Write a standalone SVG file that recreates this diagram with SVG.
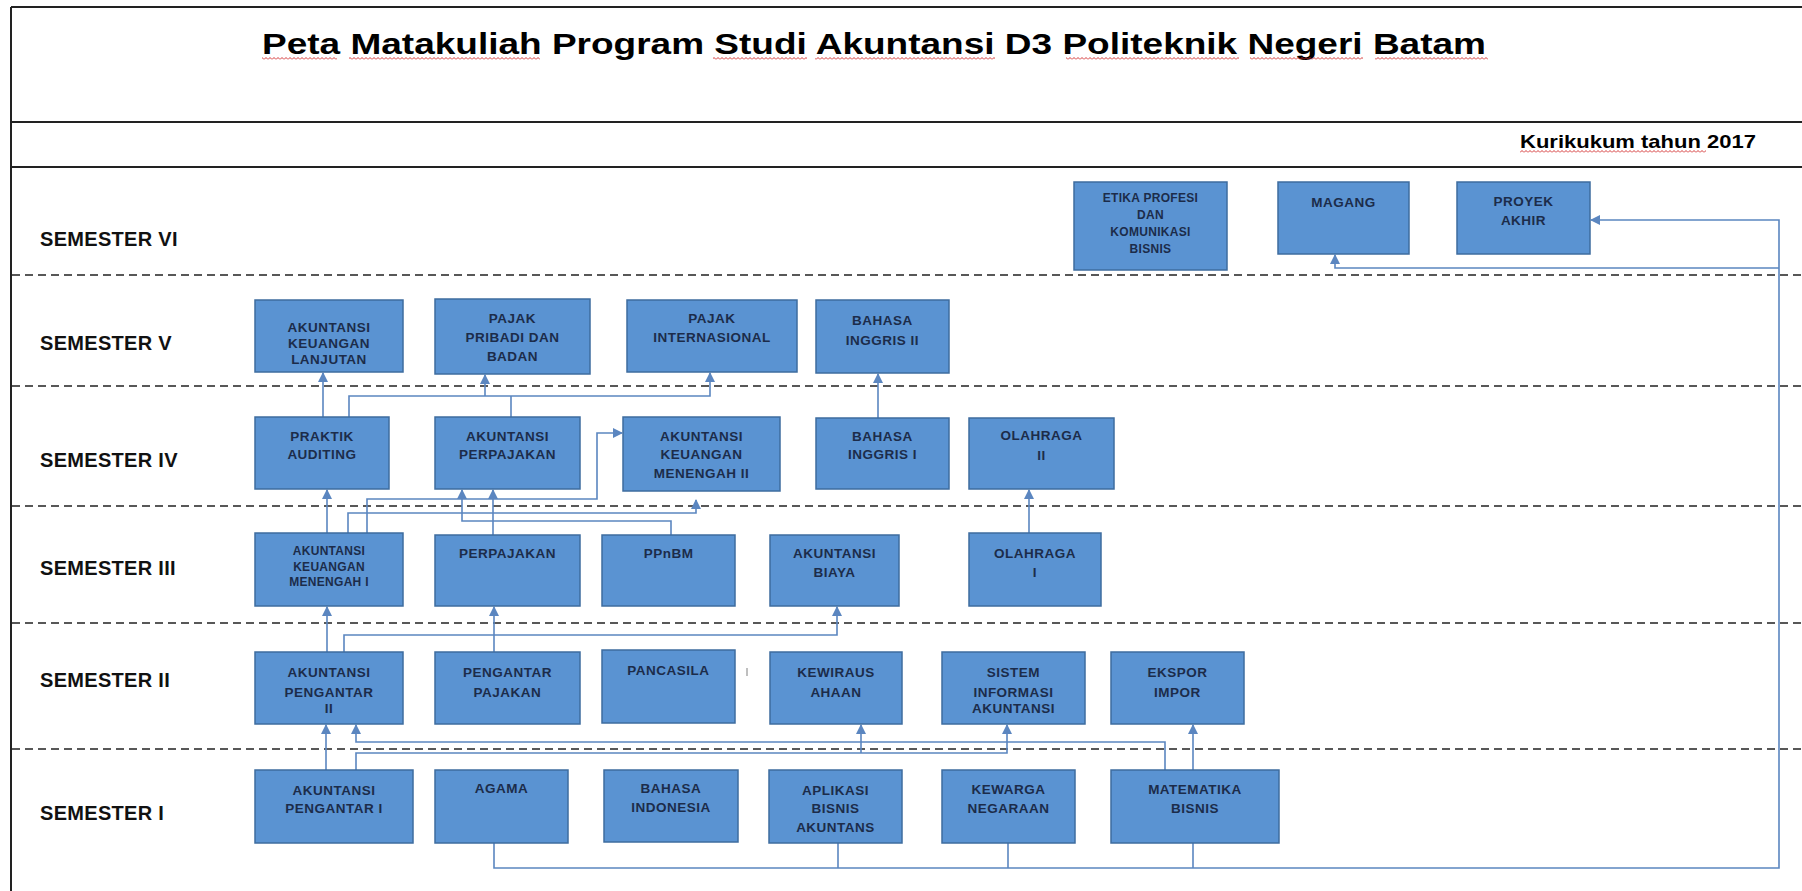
<svg xmlns="http://www.w3.org/2000/svg" width="1802" height="891" viewBox="0 0 1802 891">
<style>
.frame{stroke:#222;stroke-width:2;fill:none}
.dash{stroke:#222;stroke-width:1.6;stroke-dasharray:8 5;fill:none}
.box{fill:#5A93D2;stroke:#3E6C9F;stroke-width:1.5}
.lbl{font-family:"Liberation Sans",Arial,sans-serif;font-weight:bold;font-size:13.5px;fill:#1C2C4A;text-anchor:middle;letter-spacing:0.5px}
.sm{font-size:12px;letter-spacing:0.3px}
.sem{font-family:"Liberation Sans",Arial,sans-serif;font-weight:bold;font-size:20px;fill:#111;letter-spacing:0.3px}
.con{stroke:#5B86C0;stroke-width:1.6;fill:none}
.arr{stroke:#5B86C0;stroke-width:1.6;fill:none;marker-end:url(#ah)}
.wavy{fill:url(#wv)}
</style>
<defs>
<marker id="ah" markerUnits="userSpaceOnUse" markerWidth="10" markerHeight="10" refX="9" refY="5" orient="auto">
<path d="M0,0 L10,5 L0,10 z" fill="#5B86C0"/>
</marker>
<pattern id="wv" patternUnits="userSpaceOnUse" width="4" height="3">
<path d="M0,2.5 L2,0.5 L4,2.5" stroke="#D02020" stroke-width="0.9" fill="none"/>
</pattern>
</defs>
<rect width="1802" height="891" fill="#fff"/>
<g id="frame">
<line class="frame" x1="11" y1="7" x2="1802" y2="7"/>
<line class="frame" x1="11" y1="7" x2="11" y2="891"/>
<line class="frame" x1="11" y1="122" x2="1802" y2="122"/>
<line class="frame" x1="11" y1="167" x2="1802" y2="167"/>
<line class="dash" x1="12" y1="275" x2="1802" y2="275"/>
<line class="dash" x1="12" y1="386" x2="1802" y2="386"/>
<line class="dash" x1="12" y1="506" x2="1802" y2="506"/>
<line class="dash" x1="12" y1="623" x2="1802" y2="623"/>
<line class="dash" x1="12" y1="749" x2="1802" y2="749"/>
</g>
<g id="titles">
<text x="262" y="54" font-family="Liberation Sans, Arial, sans-serif" font-weight="bold" font-size="29" fill="#000" textLength="1224" lengthAdjust="spacingAndGlyphs">Peta Matakuliah Program Studi Akuntansi D3 Politeknik Negeri Batam</text>
<text x="1520" y="148" font-family="Liberation Sans, Arial, sans-serif" font-weight="bold" font-size="19" fill="#000" textLength="236" lengthAdjust="spacingAndGlyphs">Kurikukum tahun 2017</text>
<text class="sem" x="40" y="246">SEMESTER VI</text>
<text class="sem" x="40" y="350">SEMESTER V</text>
<text class="sem" x="40" y="467">SEMESTER IV</text>
<text class="sem" x="40" y="575">SEMESTER III</text>
<text class="sem" x="40" y="687">SEMESTER II</text>
<text class="sem" x="40" y="820">SEMESTER I</text>
</g>
<g id="spellcheck">
<rect class="wavy" x="262" y="57" width="75" height="3"/>
<rect class="wavy" x="349" y="57" width="191" height="3"/>
<rect class="wavy" x="713" y="57" width="94" height="3"/>
<rect class="wavy" x="815" y="57" width="180" height="3"/>
<rect class="wavy" x="1066" y="57" width="173" height="3"/>
<rect class="wavy" x="1250" y="57" width="113" height="3"/>
<rect class="wavy" x="1375" y="57" width="113" height="3"/>
<rect class="wavy" x="1520" y="150" width="186" height="3"/>
</g>
<g id="connectors">
<path class="arr" d="M327,533 V490"/>
<path class="arr" d="M323,417 V373"/>
<path class="arr" d="M349,417 V396 H710 V373"/>
<path class="con" d="M511,417 V396"/>
<path class="arr" d="M485,396 V375"/>
<path class="arr" d="M878,418 V374"/>
<path class="arr" d="M1029,533 V490"/>
<path class="arr" d="M367,533 V499 H597 V433 H622"/>
<path class="arr" d="M348,533 V513 H696 V500"/>
<path class="arr" d="M671,535 V521 H462 V490"/>
<path class="arr" d="M493,535 V490"/>
<path class="arr" d="M327,652 V607"/>
<path class="arr" d="M344,652 V635 H837 V607"/>
<path class="arr" d="M494,652 V607"/>
<path class="arr" d="M326,770 V725"/>
<path class="arr" d="M1165,770 V742 H356 V725"/>
<path class="arr" d="M356,770 V753 H1007 V725"/>
<path class="arr" d="M861,753 V725"/>
<path class="arr" d="M1193,770 V725"/>
<path class="arr" d="M494,843 V868 H1779 V220 H1591"/>
<path class="con" d="M838,843 V868"/>
<path class="con" d="M1008,843 V868"/>
<path class="con" d="M1193,843 V868"/>
<path class="arr" d="M1779,268 H1335 V255"/>
</g>
<g id="n-etika"><rect class="box" x="1074" y="182" width="153" height="88"/><text class="lbl sm" x="1150" y="202"><tspan x="1150.5">ETIKA PROFESI</tspan><tspan x="1150.5" dy="17">DAN</tspan><tspan x="1150.5" dy="17">KOMUNIKASI</tspan><tspan x="1150.5" dy="17">BISNIS</tspan></text></g>
<g id="n-magang"><rect class="box" x="1278" y="182" width="131" height="72"/><text class="lbl" x="1343.5" y="207" font-size="18" letter-spacing="1">MAGANG</text></g>
<g id="n-proyek"><rect class="box" x="1457" y="182" width="133" height="72"/><text class="lbl" x="1523.5" y="206"><tspan x="1523.5">PROYEK</tspan><tspan x="1523.5" dy="19">AKHIR</tspan></text></g>
<g id="n-akl"><rect class="box" x="255" y="300" width="148" height="72"/><text class="lbl" x="329" y="332"><tspan x="329">AKUNTANSI</tspan><tspan x="329" dy="16">KEUANGAN</tspan><tspan x="329" dy="16">LANJUTAN</tspan></text></g>
<g id="n-pajak-pribadi"><rect class="box" x="435" y="299" width="155" height="75"/><text class="lbl" x="512.5" y="323"><tspan x="512.5">PAJAK</tspan><tspan x="512.5" dy="19">PRIBADI DAN</tspan><tspan x="512.5" dy="19">BADAN</tspan></text></g>
<g id="n-pajak-int"><rect class="box" x="627" y="300" width="170" height="72"/><text class="lbl" x="712" y="323"><tspan x="712">PAJAK</tspan><tspan x="712" dy="19">INTERNASIONAL</tspan></text></g>
<g id="n-bing2"><rect class="box" x="816" y="300" width="133" height="73"/><text class="lbl" x="882.5" y="325"><tspan x="882.5">BAHASA</tspan><tspan x="882.5" dy="20">INGGRIS  II</tspan></text></g>
<g id="n-praktik"><rect class="box" x="255" y="417" width="134" height="72"/><text class="lbl" x="322" y="441"><tspan x="322">PRAKTIK</tspan><tspan x="322" dy="18">AUDITING</tspan></text></g>
<g id="n-akp"><rect class="box" x="435" y="417" width="145" height="72"/><text class="lbl" x="507.5" y="441"><tspan x="507.5">AKUNTANSI</tspan><tspan x="507.5" dy="18">PERPAJAKAN</tspan></text></g>
<g id="n-akm2"><rect class="box" x="623" y="417" width="157" height="74"/><text class="lbl" x="701.5" y="441"><tspan x="701.5">AKUNTANSI</tspan><tspan x="701.5" dy="18">KEUANGAN</tspan><tspan x="701.5" dy="19">MENENGAH  II</tspan></text></g>
<g id="n-bing1"><rect class="box" x="816" y="418" width="133" height="71"/><text class="lbl" x="882.5" y="441"><tspan x="882.5">BAHASA</tspan><tspan x="882.5" dy="18">INGGRIS  I</tspan></text></g>
<g id="n-olr2"><rect class="box" x="969" y="418" width="145" height="71"/><text class="lbl" x="1041.5" y="440"><tspan x="1041.5">OLAHRAGA</tspan><tspan x="1041.5" dy="20">II</tspan></text></g>
<g id="n-akm1"><rect class="box" x="255" y="533" width="148" height="73"/><text class="lbl sm" x="329" y="555"><tspan x="329">AKUNTANSI</tspan><tspan x="329" dy="15.5">KEUANGAN</tspan><tspan x="329" dy="15.5">MENENGAH  I</tspan></text></g>
<g id="n-perpajakan"><rect class="box" x="435" y="535" width="145" height="71"/><text class="lbl" x="507.5" y="558">PERPAJAKAN</text></g>
<g id="n-ppnbm"><rect class="box" x="602" y="535" width="133" height="71"/><text class="lbl" x="668.5" y="558">PPnBM</text></g>
<g id="n-akbiaya"><rect class="box" x="770" y="535" width="129" height="71"/><text class="lbl" x="834.5" y="558"><tspan x="834.5">AKUNTANSI</tspan><tspan x="834.5" dy="19">BIAYA</tspan></text></g>
<g id="n-olr1"><rect class="box" x="969" y="533" width="132" height="73"/><text class="lbl" x="1035" y="558"><tspan x="1035">OLAHRAGA</tspan><tspan x="1035" dy="19">I</tspan></text></g>
<g id="n-ap2"><rect class="box" x="255" y="652" width="148" height="72"/><text class="lbl" x="329" y="677"><tspan x="329">AKUNTANSI</tspan><tspan x="329" dy="20">PENGANTAR</tspan><tspan x="329" dy="16">II</tspan></text></g>
<g id="n-pp"><rect class="box" x="435" y="652" width="145" height="72"/><text class="lbl" x="507.5" y="677"><tspan x="507.5">PENGANTAR</tspan><tspan x="507.5" dy="20">PAJAKAN</tspan></text></g>
<g id="n-pancasila"><rect class="box" x="602" y="650" width="133" height="73"/><text class="lbl" x="668.5" y="675">PANCASILA</text><line x1="747" y1="668" x2="747" y2="676" stroke="#aaa" stroke-width="1.5"/></g>
<g id="n-kwu"><rect class="box" x="770" y="652" width="132" height="72"/><text class="lbl" x="836" y="677"><tspan x="836">KEWIRAUS</tspan><tspan x="836" dy="20">AHAAN</tspan></text></g>
<g id="n-sia"><rect class="box" x="942" y="652" width="143" height="72"/><text class="lbl" x="1013.5" y="677"><tspan x="1013.5">SISTEM</tspan><tspan x="1013.5" dy="20">INFORMASI</tspan><tspan x="1013.5" dy="16">AKUNTANSI</tspan></text></g>
<g id="n-ekspor"><rect class="box" x="1111" y="652" width="133" height="72"/><text class="lbl" x="1177.5" y="677"><tspan x="1177.5">EKSPOR</tspan><tspan x="1177.5" dy="20">IMPOR</tspan></text></g>
<g id="n-ap1"><rect class="box" x="255" y="770" width="158" height="73"/><text class="lbl" x="334" y="795"><tspan x="334">AKUNTANSI</tspan><tspan x="334" dy="18">PENGANTAR  I</tspan></text></g>
<g id="n-agama"><rect class="box" x="435" y="770" width="133" height="73"/><text class="lbl" x="501.5" y="793">AGAMA</text></g>
<g id="n-bindo"><rect class="box" x="604" y="770" width="134" height="72"/><text class="lbl" x="671" y="793"><tspan x="671">BAHASA</tspan><tspan x="671" dy="19">INDONESIA</tspan></text></g>
<g id="n-aplikasi"><rect class="box" x="769" y="770" width="133" height="73"/><text class="lbl" x="835.5" y="795"><tspan x="835.5">APLIKASI</tspan><tspan x="835.5" dy="18">BISNIS</tspan><tspan x="835.5" dy="19">AKUNTANS</tspan></text></g>
<g id="n-kwn"><rect class="box" x="942" y="770" width="133" height="73"/><text class="lbl" x="1008.5" y="794"><tspan x="1008.5">KEWARGA</tspan><tspan x="1008.5" dy="19">NEGARAAN</tspan></text></g>
<g id="n-mtk"><rect class="box" x="1111" y="770" width="168" height="73"/><text class="lbl" x="1195" y="794"><tspan x="1195">MATEMATIKA</tspan><tspan x="1195" dy="19">BISNIS</tspan></text></g>
</svg>
